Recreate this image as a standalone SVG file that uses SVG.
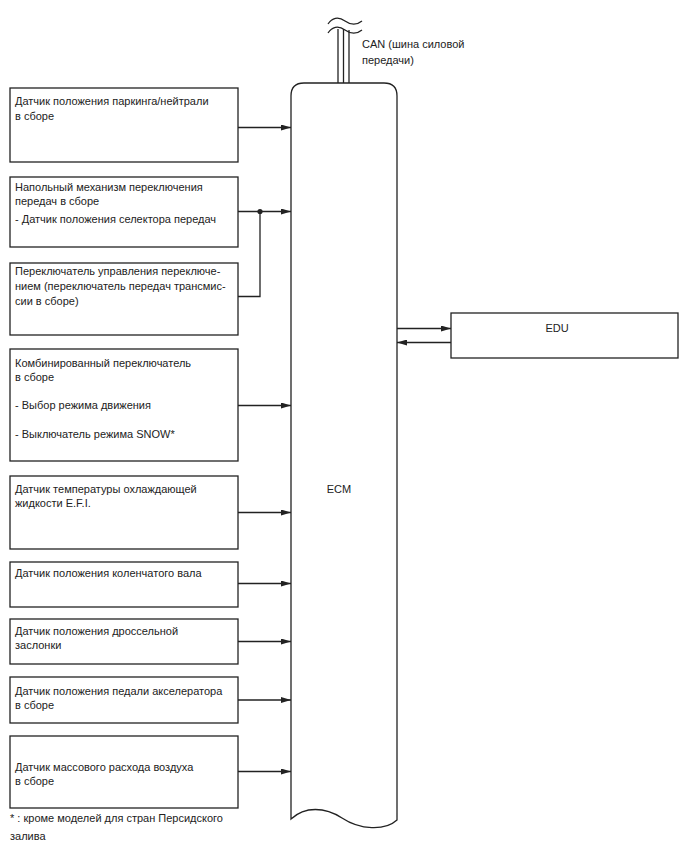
<svg xmlns="http://www.w3.org/2000/svg" width="688" height="852" viewBox="0 0 688 852">
<defs>
<style>
.box{fill:#fff;stroke:#222;stroke-width:1.3}
.ln{fill:none;stroke:#222;stroke-width:1.3}
.t{font-family:"Liberation Sans",Arial,sans-serif;font-size:11px;fill:#222}
.m{text-anchor:middle}
</style>
<marker id="ah" viewBox="0 0 10 6" refX="10" refY="3" markerWidth="10" markerHeight="6" markerUnits="userSpaceOnUse" orient="auto">
<path d="M0,0 L10,3 L0,6 Z" fill="#222"/>
</marker>
</defs>
<rect width="688" height="852" fill="#fff"/>

<g id="can">
<path class="ln" d="M328,24 C332,18 338,16 345,21 C352,26 357,25 362,21"/>
<path class="ln" d="M328,33 C332,27 338,25 345,30 C352,35 357,34 362,30"/>
<line class="ln" x1="338" y1="29" x2="338" y2="83" stroke-width="1.5"/>
<line class="ln" x1="343.5" y1="29" x2="343.5" y2="83" stroke-width="1.5"/>
<line class="ln" x1="349" y1="30" x2="349" y2="83" stroke-width="1.5"/>
<text class="t" x="362" y="48">CAN (шина силовой</text>
<text class="t" x="362" y="64">передачи)</text>
</g>

<g id="ecm">
<path class="box" d="M291,819 L291,96 Q291,83 304,83 L384,83 Q397,83 397,96 L397,820 C385,831 360,830 342,818 C325,807 305,806 291,819 Z"/>
<text class="t m" x="339" y="493">ECM</text>
</g>

<g id="edu">
<rect class="box" x="451" y="313" width="227" height="45"/>
<text class="t m" x="557" y="332">EDU</text>
</g>

<g id="n1">
<rect class="box" x="10" y="88" width="228" height="74"/>
<text class="t" x="15" y="105">Датчик положения паркинга/нейтрали</text>
<text class="t" x="15" y="120">в сборе</text>
</g>

<g id="n2">
<rect class="box" x="10" y="177" width="228" height="70"/>
<text class="t" x="15" y="191">Напольный механизм переключения</text>
<text class="t" x="15" y="205">передач в сборе</text>
<text class="t" x="15" y="223">- Датчик положения селектора передач</text>
</g>

<g id="n3">
<rect class="box" x="10" y="263" width="228" height="72"/>
<text class="t" x="15" y="275">Переключатель управления переключе-</text>
<text class="t" x="15" y="290">нием (переключатель передач трансмис-</text>
<text class="t" x="15" y="305">сии в сборе)</text>
</g>

<g id="n4">
<rect class="box" x="10" y="349" width="228" height="112"/>
<text class="t" x="15" y="367">Комбинированный переключатель</text>
<text class="t" x="15" y="381">в сборе</text>
<text class="t" x="15" y="409">- Выбор режима движения</text>
<text class="t" x="15" y="438">- Выключатель режима SNOW*</text>
</g>

<g id="n5">
<rect class="box" x="10" y="476" width="228" height="73"/>
<text class="t" x="15" y="493">Датчик температуры охлаждающей</text>
<text class="t" x="15" y="507">жидкости E.F.I.</text>
</g>

<g id="n6">
<rect class="box" x="10" y="562" width="228" height="45"/>
<text class="t" x="15" y="577">Датчик положения коленчатого вала</text>
</g>

<g id="n7">
<rect class="box" x="10" y="619" width="228" height="45"/>
<text class="t" x="15" y="635">Датчик положения дроссельной</text>
<text class="t" x="15" y="649">заслонки</text>
</g>

<g id="n8">
<rect class="box" x="10" y="677" width="228" height="46"/>
<text class="t" x="15" y="695">Датчик положения педали акселератора</text>
<text class="t" x="15" y="709">в сборе</text>
</g>

<g id="n9">
<rect class="box" x="10" y="736" width="228" height="72"/>
<text class="t" x="15" y="771">Датчик массового расхода воздуха</text>
<text class="t" x="15" y="785">в сборе</text>
</g>

<g id="note">
<text class="t" x="10" y="822">* : кроме моделей для стран Персидского</text>
<text class="t" x="10" y="840">залива</text>
</g>

<g id="connectors">
<line class="ln" x1="238" y1="127.5" x2="291" y2="127.5" marker-end="url(#ah)"/>
<line class="ln" x1="238" y1="211.5" x2="291" y2="211.5" marker-end="url(#ah)"/>
<polyline class="ln" points="238,296.5 260,296.5 260,211.5"/>
<circle cx="260" cy="211.5" r="2.6" fill="#222"/>
<line class="ln" x1="238" y1="405.5" x2="291" y2="405.5" marker-end="url(#ah)"/>
<line class="ln" x1="238" y1="512.5" x2="291" y2="512.5" marker-end="url(#ah)"/>
<line class="ln" x1="238" y1="583.5" x2="291" y2="583.5" marker-end="url(#ah)"/>
<line class="ln" x1="238" y1="641.5" x2="291" y2="641.5" marker-end="url(#ah)"/>
<line class="ln" x1="238" y1="700" x2="291" y2="700" marker-end="url(#ah)"/>
<line class="ln" x1="238" y1="771.5" x2="291" y2="771.5" marker-end="url(#ah)"/>
<line class="ln" x1="397" y1="328.5" x2="451" y2="328.5" marker-end="url(#ah)"/>
<line class="ln" x1="451" y1="342.5" x2="397" y2="342.5" marker-end="url(#ah)"/>
</g>
</svg>
